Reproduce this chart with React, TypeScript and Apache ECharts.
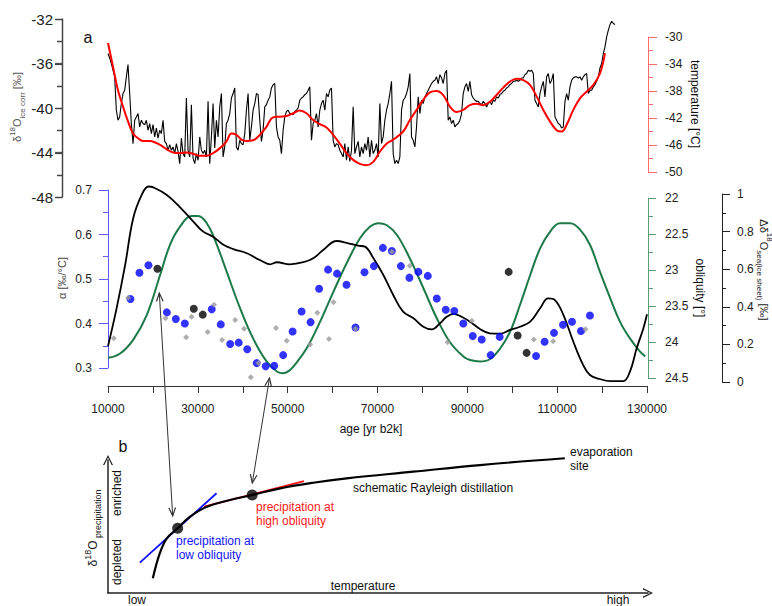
import React, { useEffect, useRef } from 'react';
import * as echarts from 'echarts';

const FONT = "'Liberation Sans', Arial, sans-serif";

// ---- Panel a: δ18O ice core (evenly spaced samples, left to right) ----
const iceD18O = [
  -35.1,-35.5,-36.0,-36.6,-37.2,-40.2,-41.1,-40.8,-39.6,-38.7,-38.4,-37.2,-36.1,-38.7,-41.4,-43.2,-41.1,-40.8,-40.5,-41.7,
  -41.1,-41.4,-41.5,-41.1,-42.0,-41.4,-42.3,-41.5,-42.6,-41.8,-42.7,-42.0,-42.3,-41.1,-43.0,-43.2,-43.8,-43.3,-43.8,-43.5,
  -44.1,-43.2,-43.9,-45.0,-42.7,-44.1,-44.4,-39.1,-43.8,-44.4,-39.7,-44.5,-45.0,-44.1,-44.7,-42.6,-43.8,-44.1,-43.8,-44.4,
  -39.4,-45.0,-42.6,-39.6,-43.6,-41.1,-42.6,-39.9,-38.7,-44.4,-43.5,-41.4,-41.1,-40.5,-39.1,-38.7,-38.2,-43.5,-43.8,-42.9,
  -43.2,-43.3,-42.3,-40.2,-38.7,-42.9,-41.7,-40.2,-39.6,-38.7,-38.8,-41.1,-43.0,-42.0,-39.9,-39.7,-39.3,-39.0,-38.2,-37.9,
  -37.8,-41.7,-42.6,-42.9,-44.1,-42.0,-40.8,-40.3,-40.2,-40.5,-40.5,-40.6,-40.3,-40.2,-40.0,-39.3,-39.1,-39.0,-38.8,-38.7,
  -38.4,-38.1,-42.9,-41.4,-41.1,-40.5,-41.7,-40.2,-39.6,-39.3,-40.2,-38.7,-39.0,-38.4,-38.2,-42.9,-43.5,-43.2,-43.3,-43.8,
  -44.1,-44.4,-43.2,-44.7,-43.5,-44.8,
  -43.8,-39.9,-44.1,-43.5,-43.0,-44.4,-43.5,-44.1,-43.2,-43.8,-42.6,-44.4,-42.9,-44.1,-43.8,-43.2,-44.4,-39.6,-43.2,-42.6,
  -41.1,-40.2,-39.6,-38.7,-37.6,-44.1,-45.0,-44.7,-45.0,-44.4,-40.2,-39.3,-39.1,-38.7,-38.1,-36.9,-42.6,-42.9,-43.5,-41.7,
  -39.0,-40.5,-39.3,-39.6,-39.0,-38.7,-38.4,-38.1,-37.8,-37.6,-37.5,-37.2,-37.8,-37.0,-37.3,-37.8,-36.9,-36.6,-41.1,-40.8,
  -41.4,-41.1,-41.7,-41.5,-41.4,-41.1,-40.5,-38.7,-38.1,-37.8,-38.5,-37.6,-38.8,-39.1,-39.3,-39.4,-39.4,-39.6,-39.7,-39.4,
  -39.6,-39.9,-39.6,-39.4,-39.7,-39.3,-39.4,-39.0,-39.1,-38.8,-38.7,-38.5,-38.4,-38.2,-38.1,-37.9,-37.8,-37.6,-37.6,-37.5,
  -37.6,-37.5,-37.3,-37.3,-37.0,-36.9,-36.6,-36.7,-36.6,-36.9,-39.3,-39.6,-39.9,-38.7,-38.1,-37.6,-39.0,-37.2,-36.9,-37.8,
  -37.5,-36.9,-40.8,-41.1,-41.4,-41.5,-41.8,-41.7,-39.4,-38.7,-39.3,-38.1,-37.5,-37.3,-37.2,-37.2,-37.3,-37.2,-37.5,-37.2,
  -37.0,-36.9,-38.7,-38.4,-38.4,-38.1,-37.9,-37.6,-37.2,-36.4,-36.0,-35.1,-34.5,-33.6,-33.0,-32.5,-32.2,-32.4,-32.5
];

// ---- Panel a: temperature (sample position, °C) ----
const tempPos = [0,3,6,9,12,15,18,21,25,29,32,35,39,43,47,51,55,59,63,67,71,74,77,80,83,87,91,95,99,103,107,111,115,119,123,127,131,135,139,143,147,151,155,159,163,167,171,177,181,185,189,193,197,201,205,209,213,217,221,225,229,233,237,241,245,249,253,257,261,265,269,272,275,279,283,287,291,295,298];
const tempC = [-30.9,-34.4,-37.9,-40.3,-42.5,-44.3,-45.0,-45.4,-45.4,-45.7,-46.1,-46.6,-47.1,-47.2,-47.1,-47.3,-47.6,-47.6,-47.2,-46.5,-45.5,-44.3,-44.5,-45.2,-45.4,-45.3,-44.5,-43.3,-41.9,-41.8,-41.7,-41.3,-40.9,-41.3,-42.3,-42.9,-43.4,-44.5,-45.8,-47.2,-48.2,-48.8,-49.0,-48.5,-47.0,-45.8,-45.2,-44.0,-42.3,-40.8,-39.3,-38.2,-38.0,-38.6,-40.3,-41.1,-40.8,-40.1,-39.9,-40.1,-39.6,-38.6,-37.5,-36.6,-36.2,-36.4,-37.1,-38.8,-40.8,-42.5,-43.8,-44.0,-43.0,-40.8,-39.1,-38.1,-37.1,-35.4,-32.4];

// ---- Panel a middle: ice sheet Δδ18O ----
const sheetAge = [10000,11900,13800,15600,17500,19000,20100,23100,26000,29000,31200,33400,35700,37900,40900,43800,46100,47600,50500,53500,55700,57900,60900,63500,65700,67200,69100,71300,73500,75700,78000,80200,82100,83900,85400,86900,88700,90600,92800,95000,97300,99500,101700,104000,106200,108000,109500,111400,113600,115800,117300,119500,121800,124700,126200,127700,129200,130000];
const sheetD = [0.19,0.39,0.62,0.87,0.995,1.04,1.035,0.995,0.93,0.853,0.80,0.773,0.73,0.707,0.685,0.649,0.626,0.637,0.626,0.637,0.658,0.702,0.75,0.738,0.725,0.72,0.658,0.569,0.463,0.374,0.339,0.294,0.28,0.312,0.347,0.362,0.347,0.321,0.282,0.259,0.257,0.277,0.294,0.321,0.392,0.445,0.436,0.356,0.214,0.09,0.037,0.016,0.005,0.005,0.055,0.179,0.286,0.36];

// ---- obliquity ----
const oblAge = [10000,12700,15600,18600,21600,23800,26000,28600,30100,32000,33800,36400,39400,42300,45300,47600,49000,50500,51300,54200,57200,60200,63100,66100,68300,70200,72000,74300,77200,80200,83200,86100,89100,90600,92800,95000,97300,99500,101700,104000,106200,108400,110600,112900,115100,117300,119500,121800,124000,126200,128400,129600];
const oblDeg = [24.22,24.16,23.97,23.63,23.07,22.65,22.4,22.25,22.25,22.35,22.58,23.02,23.53,23.95,24.27,24.41,24.435,24.39,24.34,24.09,23.72,23.30,22.91,22.56,22.4,22.35,22.375,22.51,22.84,23.25,23.67,24.0,24.2,24.25,24.27,24.24,24.09,23.86,23.49,23.07,22.70,22.47,22.35,22.35,22.44,22.65,23.02,23.39,23.72,23.95,24.13,24.2];

// ---- α estimates ----
const blueAge = [15000,17000,19000,23100,25100,27100,33100,35100,37200,39100,41000,43100,45100,47000,49000,51100,53100,55100,57000,59000,61000,63100,65100,67100,69200,71200,73200,75200,77100,79100,81200,83200,85200,87100,89100,91200,93200,95200,97200,105300,107200,109300,111300,113300,115300,117300];
const blueAlpha = [0.455,0.514,0.531,0.425,0.41,0.40,0.432,0.398,0.354,0.357,0.342,0.311,0.304,0.305,0.329,0.382,0.427,0.403,0.478,0.521,0.512,0.487,0.391,0.515,0.529,0.570,0.563,0.529,0.503,0.516,0.507,0.456,0.431,0.428,0.40,0.372,0.364,0.329,0.370,0.327,0.359,0.379,0.397,0.404,0.383,0.418];
const blackAge = [21000,29100,31100,99200,101200,103200];
const blackAlpha = [0.523,0.433,0.42,0.516,0.373,0.334];
const grayAge = [11300,14500,22800,27400,28600,32200,33600,35400,38300,40300,41800,43500,47400,49800,55000,56600,59200,60200,65100,73200,77200,85600,91000,104800,109100,116300];
const grayAlpha = [0.367,0.458,0.412,0.369,0.415,0.381,0.442,0.363,0.408,0.388,0.279,0.311,0.39,0.361,0.353,0.424,0.365,0.448,0.388,0.561,0.53,0.358,0.406,0.364,0.36,0.387];

// ---- tick labels ----
const ageTicks = [10000,30000,50000,70000,90000,110000,130000];
const tempTicks = [-50,-46,-42,-38,-34,-30];
const tempMinorTicks = [-48,-44,-40,-36,-32];
const iceTicks = [-48,-44,-40,-36,-32];
const iceMinorTicks = [-46,-42,-38,-34];

// ---- Panel b schematic ----
const rayT = [8.3,9.6,10.9,12.9,15.2,18.3,22.6,26.7,31.9,38.0,44.2,56.5,68.9,84.6];
const rayD = [11.0,29.9,41.1,48.7,57.4,64.9,69.9,73.7,78.7,82.9,86.2,91.2,96.2,101.3];
const lowTangent = [[5.9,22.8],[20.1,75.0]];
const highTangent = [[17.8,64.9],[36.3,84.2]];
const precipPoints = [[12.9,48.7],[26.7,73.7]];

const zip = (a: number[], b: number[]) => a.map((v, i) => [v, b[i]]);

function head(tx: number, ty: number, fx: number, fy: number, len = 9, ang = 0.38) {
  const a = Math.atan2(fy - ty, fx - tx);
  return [
    [tx + len * Math.cos(a + ang), ty + len * Math.sin(a + ang)],
    [tx, ty],
    [tx + len * Math.cos(a - ang), ty + len * Math.sin(a - ang)],
  ];
}

function txt(x: number, y: number, text: string, o: any = {}) {
  return {
    type: 'text', x, y, rotation: o.rotation || 0, z: 100,
    style: {
      text, fill: o.fill || '#111', fontSize: o.fontSize || 12, fontFamily: FONT,
      align: o.align || 'center', verticalAlign: 'middle', rich: o.rich,
    },
  };
}

const chevron = 'path://M0,10 L5,0 L10,10 L8.6,10 L5,2.6 L1.4,10 Z';

// layout of the top δ18O axis (pixels)
const ICE_AXIS_X = 62;
const ICE_TOP = 19;
const ICE_H = 178;

export default function App() {
  const ref = useRef<HTMLDivElement>(null);
  useEffect(() => {
    if (!ref.current) return;
    const chart = echarts.init(ref.current, null, { renderer: 'svg' });
    const blue = '#5a5aff';
    const green = '#5c9e74';
    const red = '#ff6a6a';
    const dark = '#333';
    const axisGray = '#555';
    const hid = (gi: number, min: number, max: number) => ({ gridIndex: gi, type: 'value', min, max, show: false });
    const a1 = [159.3, 293, 172.7, 516];
    const a2 = [269.5, 378, 252.3, 483];
    const supRich = (main: number, sub: number, fill: string) => ({
      a: { fontSize: main, fontFamily: FONT, fill, lineHeight: main + 7, verticalAlign: 'middle' },
      sup: { fontSize: sub, fontFamily: FONT, fill, lineHeight: sub, verticalAlign: 'top' },
      sub: { fontSize: sub, fontFamily: FONT, fill, lineHeight: sub, verticalAlign: 'bottom' },
    });
    const noZero = (c: string, w = 1) => ({ show: true, onZero: false, lineStyle: { color: c, width: w } });

    const iceY = (v: number) => ICE_TOP + ((-32 - v) / 16) * ICE_H;
    const spine: any[] = [
      { type: 'line', z: 95, silent: true, shape: { x1: ICE_AXIS_X + 0.5, y1: ICE_TOP, x2: ICE_AXIS_X + 0.5, y2: ICE_TOP + ICE_H }, style: { stroke: '#444', lineWidth: 1.2 } },
      ...iceTicks.map((v) => ({ type: 'line', z: 95, silent: true, shape: { x1: ICE_AXIS_X - 7, y1: Math.round(iceY(v)) + 0.5, x2: ICE_AXIS_X + 0.5, y2: Math.round(iceY(v)) + 0.5 }, style: { stroke: '#444', lineWidth: 1.2 } })),
      ...iceMinorTicks.map((v) => ({ type: 'line', z: 95, silent: true, shape: { x1: ICE_AXIS_X - 5, y1: Math.round(iceY(v)) + 0.5, x2: ICE_AXIS_X + 0.5, y2: Math.round(iceY(v)) + 0.5 }, style: { stroke: '#444', lineWidth: 1.2 } })),
    ];

    const graphics: any[] = [
      ...spine,
      txt(88, 37, 'a', { fontSize: 16 }),
      txt(123, 446, 'b', { fontSize: 16 }),
      txt(17, 107, '{a|δ}{sup|18}{a|O}{sub|ice corr}{a| [‰]}', { rotation: Math.PI / 2, rich: supRich(11, 8, '#555') }),
      txt(695, 104, 'temperature [°C]', { rotation: -Math.PI / 2, fontSize: 12 }),
      txt(62, 278, 'α [‰/°C]', { rotation: Math.PI / 2, fontSize: 11, fill: '#444' }),
      txt(700, 288, 'obliquity [°]', { rotation: -Math.PI / 2, fontSize: 12 }),
      txt(764, 270, '{a|Δδ}{sup|18}{a|O}{sub|sea(ice sheet)}{a| [‰]}', { rotation: -Math.PI / 2, rich: supRich(11, 8, '#222') }),
      txt(371, 429, 'age [yr b2k]', { fontSize: 12 }),
      txt(93, 528, '{a|δ}{sup|18}{a|O}{sub| precipitation}', { rotation: Math.PI / 2, rich: supRich(12, 9, '#222') }),
      txt(117, 493, 'enriched', { rotation: Math.PI / 2, fontSize: 12 }),
      txt(117, 562, 'depleted', { rotation: Math.PI / 2, fontSize: 12 }),
      txt(137, 600, 'low', { fontSize: 12 }),
      txt(618, 600, 'high', { fontSize: 12 }),
      txt(363, 586, 'temperature', { fontSize: 12 }),
      txt(353, 488, 'schematic Rayleigh distillation', { fontSize: 12, align: 'left' }),
      txt(570, 452, 'evaporation', { fontSize: 12, align: 'left' }),
      txt(570, 466, 'site', { fontSize: 12, align: 'left' }),
      txt(176, 541, 'precipitation at', { fontSize: 12, align: 'left', fill: '#1414ff' }),
      txt(176, 555, 'low obliquity', { fontSize: 12, align: 'left', fill: '#1414ff' }),
      txt(256, 507, 'precipitation at', { fontSize: 12, align: 'left', fill: '#ff1a1a' }),
      txt(256, 521, 'high obliquity', { fontSize: 12, align: 'left', fill: '#ff1a1a' }),
      { type: 'line', z: 90, shape: { x1: a1[0], y1: a1[1], x2: a1[2], y2: a1[3] }, style: { stroke: '#333', lineWidth: 1 } },
      { type: 'polyline', z: 90, shape: { points: head(a1[0], a1[1], a1[2], a1[3]) }, style: { stroke: '#333', lineWidth: 1.2, fill: null } },
      { type: 'polyline', z: 90, shape: { points: head(a1[2], a1[3], a1[0], a1[1]) }, style: { stroke: '#333', lineWidth: 1.2, fill: null } },
      { type: 'line', z: 90, shape: { x1: a2[0], y1: a2[1], x2: a2[2], y2: a2[3] }, style: { stroke: '#333', lineWidth: 1 } },
      { type: 'polyline', z: 90, shape: { points: head(a2[0], a2[1], a2[2], a2[3]) }, style: { stroke: '#333', lineWidth: 1.2, fill: null } },
      { type: 'polyline', z: 90, shape: { points: head(a2[2], a2[3], a2[0], a2[1]) }, style: { stroke: '#333', lineWidth: 1.2, fill: null } },
    ];

    chart.setOption({
      animation: false,
      textStyle: { fontFamily: FONT },
      grid: [
        { left: 108, right: 157, top: 19, height: 178 },
        { left: 108, right: 157, top: 37, height: 135 },
        { left: 108, right: 125, top: 190, height: 178 },
        { left: 108, right: 125, top: 198, height: 180 },
        { left: 108, right: 125, top: 194, height: 188 },
        { left: 108, right: 124, top: 460, height: 133 },
        { left: 108, right: 157, top: 37, height: 135 },
        { left: ICE_AXIS_X, right: 157, top: ICE_TOP, height: ICE_H },
      ],
      xAxis: [
        hid(0, 0, iceD18O.length - 1),
        hid(1, 0, iceD18O.length - 1),
        {
          gridIndex: 2, type: 'value', min: 10000, max: 130000, interval: 10000, offset: 18,
          axisLine: noZero(dark),
          axisTick: { show: true, length: 7, lineStyle: { color: dark } },
          axisLabel: {
            fontSize: 12, color: '#222', margin: 17,
            formatter: (v: number) => (ageTicks.includes(v) ? String(v) : ''),
          },
          splitLine: { show: false },
        },
        hid(3, 10000, 130000),
        hid(4, 10000, 130000),
        {
          gridIndex: 5, type: 'value', min: 0, max: 100,
          axisLine: { show: true, onZero: false, symbol: ['none', chevron], symbolSize: [10, 11], lineStyle: { color: '#222', width: 1.5 } },
          axisTick: { show: false }, axisLabel: { show: false }, splitLine: { show: false },
        },
        hid(6, 0, iceD18O.length - 1),
        hid(7, 0, 1),
      ],
      yAxis: [
        { gridIndex: 0, type: 'value', min: -48, max: -32, show: false },
        {
          gridIndex: 1, type: 'value', position: 'right', offset: 33, min: -50, max: -30,
          axisLine: noZero(red),
          axisTick: { show: true, length: 9, customValues: tempTicks, lineStyle: { color: red } },
          axisLabel: { fontSize: 12, color: '#222', margin: 17, customValues: tempTicks },
          splitLine: { show: false },
        },
        {
          gridIndex: 6, type: 'value', position: 'right', offset: 33, min: -50, max: -30,
          axisLine: { show: false, onZero: false },
          axisTick: { show: true, length: 5, customValues: tempMinorTicks, lineStyle: { color: red } },
          axisLabel: { show: false },
          splitLine: { show: false },
        },
        {
          gridIndex: 2, type: 'value', position: 'left', min: 0.3, max: 0.7, interval: 0.1,
          axisLine: noZero(blue),
          axisTick: { show: true, length: 9, lineStyle: { color: blue } },
          minorTick: { show: true, splitNumber: 2, length: 5, lineStyle: { color: blue } },
          axisLabel: { fontSize: 12, color: '#222', margin: 16 },
          splitLine: { show: false }, minorSplitLine: { show: false },
        },
        {
          gridIndex: 3, type: 'value', position: 'right', offset: 1, inverse: true, min: 22, max: 24.5, interval: 0.5,
          axisLine: noZero(green),
          axisTick: { show: true, length: 8, lineStyle: { color: green } },
          minorTick: { show: true, splitNumber: 2, length: 5, lineStyle: { color: green } },
          axisLabel: { fontSize: 12, color: '#222', margin: 17 },
          splitLine: { show: false }, minorSplitLine: { show: false },
        },
        {
          gridIndex: 4, type: 'value', position: 'right', offset: 75, min: 0, max: 1, interval: 0.2,
          axisLine: noZero('#222'),
          axisTick: { show: true, length: 8, lineStyle: { color: '#222' } },
          minorTick: { show: true, splitNumber: 2, length: 4, lineStyle: { color: '#222' } },
          axisLabel: { fontSize: 12, color: '#222', margin: 15 },
          splitLine: { show: false }, minorSplitLine: { show: false },
        },
        {
          gridIndex: 5, type: 'value', position: 'left', min: 0, max: 100,
          axisLine: { show: true, onZero: false, symbol: ['none', chevron], symbolSize: [10, 11], lineStyle: { color: '#222', width: 1.5 } },
          axisTick: { show: false }, axisLabel: { show: false }, splitLine: { show: false },
        },
        {
          gridIndex: 7, type: 'value', position: 'left', min: -48, max: -32, interval: 4,
          axisLine: { show: true, onZero: false, lineStyle: { color: axisGray, width: 1.3 } },
          axisTick: { show: true, length: 7, lineStyle: { color: axisGray, width: 1.3 } },
          minorTick: { show: true, splitNumber: 2, length: 5, lineStyle: { color: axisGray, width: 1.3 } },
          axisLabel: { fontSize: 15, color: '#222', margin: 9 },
          splitLine: { show: false }, minorSplitLine: { show: false },
        },
      ],
      series: [
        {
          type: 'line', xAxisIndex: 0, yAxisIndex: 0, data: iceD18O.map((v, i) => [i, v]),
          symbol: 'none', lineStyle: { color: '#000', width: 1.1 }, z: 2,
        },
        {
          type: 'line', xAxisIndex: 1, yAxisIndex: 1, data: zip(tempPos, tempC), smooth: 0.4,
          symbol: 'none', lineStyle: { color: '#ff0000', width: 2 }, z: 3,
        },
        {
          type: 'line', xAxisIndex: 3, yAxisIndex: 4, data: zip(oblAge, oblDeg), smooth: 0.4,
          symbol: 'none', lineStyle: { color: '#1c7a48', width: 2 }, z: 2, clip: false,
        },
        {
          type: 'line', xAxisIndex: 4, yAxisIndex: 5, data: zip(sheetAge, sheetD), smooth: 0.4,
          symbol: 'none', lineStyle: { color: '#000', width: 1.8 }, z: 2, clip: false,
        },
        {
          type: 'scatter', xAxisIndex: 2, yAxisIndex: 3, data: zip(blueAge, blueAlpha),
          symbol: 'circle', symbolSize: 8, itemStyle: { color: '#0000ff' }, z: 4, clip: false,
        },
        {
          type: 'scatter', xAxisIndex: 2, yAxisIndex: 3, data: zip(blackAge, blackAlpha),
          symbol: 'circle', symbolSize: 8, itemStyle: { color: '#000' }, z: 4, clip: false,
        },
        {
          type: 'scatter', xAxisIndex: 2, yAxisIndex: 3, data: zip(grayAge, grayAlpha),
          symbol: 'diamond', symbolSize: 6, itemStyle: { color: '#9a9a9a' }, z: 5, clip: false,
        },
        {
          type: 'line', xAxisIndex: 5, yAxisIndex: 6, data: zip(rayT, rayD), smooth: 0.4, clip: false,
          symbol: 'none', lineStyle: { color: '#000', width: 2.2 }, z: 3,
        },
        {
          type: 'line', xAxisIndex: 5, yAxisIndex: 6, data: lowTangent, clip: false,
          symbol: 'none', lineStyle: { color: '#1010ff', width: 1.8 }, z: 2,
        },
        {
          type: 'line', xAxisIndex: 5, yAxisIndex: 6, data: highTangent, clip: false,
          symbol: 'none', lineStyle: { color: '#ff1010', width: 1.8 }, z: 2,
        },
        {
          type: 'scatter', xAxisIndex: 5, yAxisIndex: 6, data: precipPoints, clip: false,
          symbol: 'circle', symbolSize: 11, itemStyle: { color: '#000' }, z: 5,
        },
      ],
      graphic: graphics,
    });
    return () => chart.dispose();
  }, []);
  return <div ref={ref} style={{ position: 'fixed', left: 0, top: 0, width: 772, height: 606, background: '#fff' }} />;
}
